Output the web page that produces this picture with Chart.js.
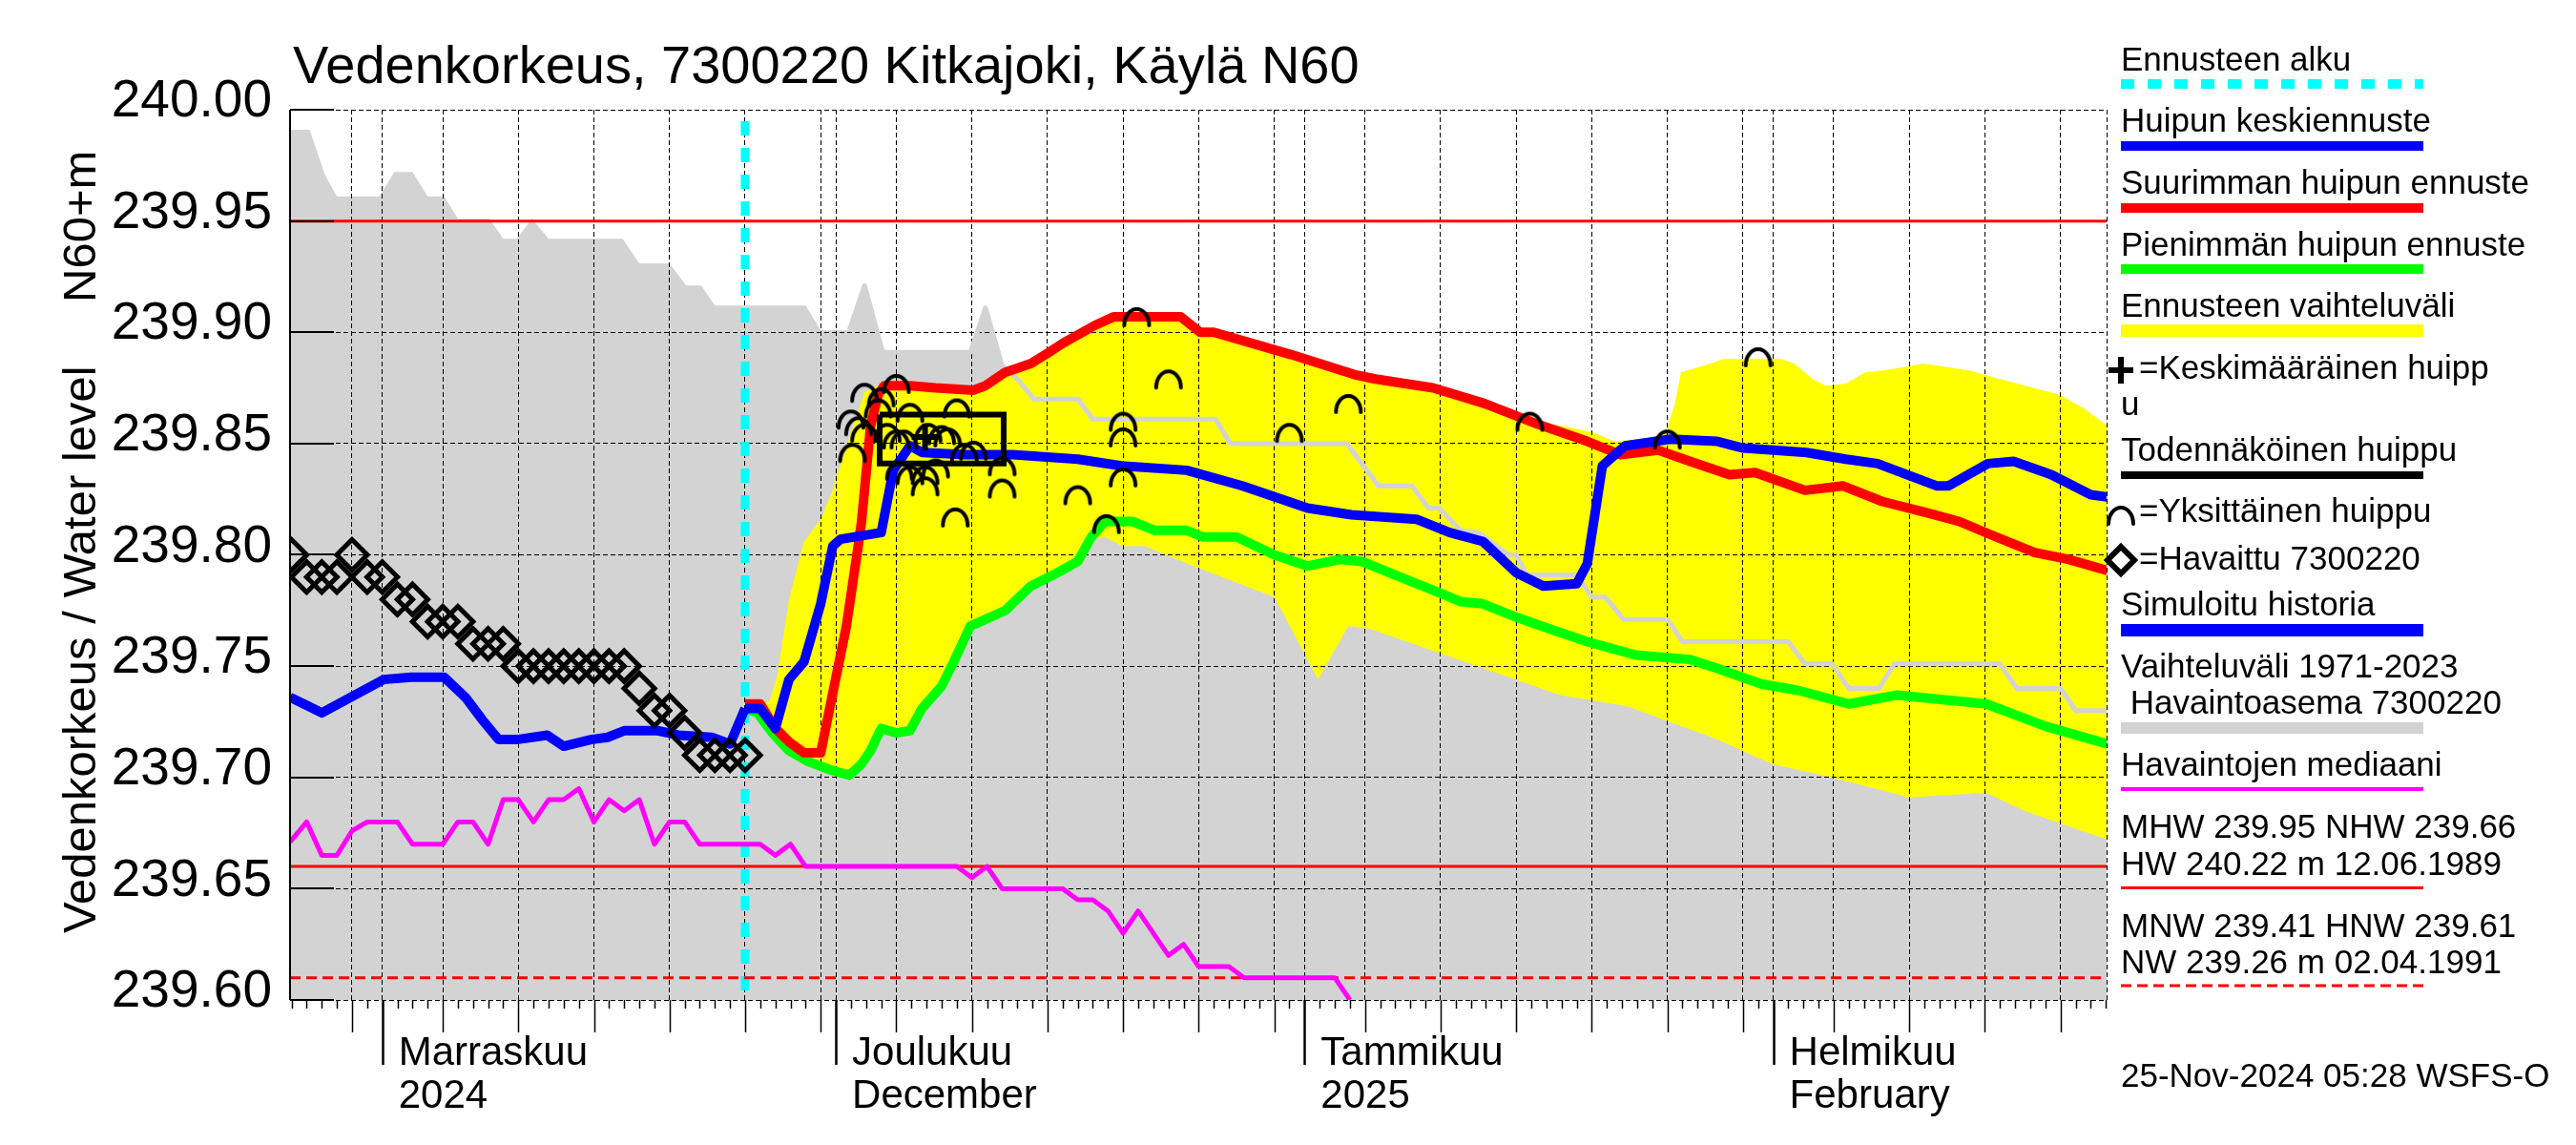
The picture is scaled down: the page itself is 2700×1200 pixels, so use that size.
<!DOCTYPE html>
<html>
<head>
<meta charset="utf-8">
<script src="https://cdn.jsdelivr.net/npm/chart.js@4.4.1/dist/chart.umd.min.js"></script>
<style>
  html, body { margin: 0; padding: 0; background: #fff; }
  #wrap { width: 2700px; height: 1200px; }
</style>
</head>
<body>
<div id="wrap"><canvas id="chart" width="2700" height="1200"></canvas></div>
<script>
// x = päiviä 26.10.2024 klo 00 alkaen
const xMin = -0.1, xMax = 120.05;
const forecastStart = 30;
const monthTicks = [6, 36, 67, 98];
const monthLabels = [["Marraskuu", "2024"], ["Joulukuu", "December"], ["Tammikuu", "2025"], ["Helmikuu", "February"]];
const gridDays = [4, 6, 10, 15, 20, 25, 30, 35, 36, 40, 45, 50, 55, 60, 65, 67, 71, 76, 81, 86, 91, 96, 98, 102, 107, 112, 117];
const yTickValues = [239.60, 239.65, 239.70, 239.75, 239.80, 239.85, 239.90, 239.95, 240.00];

// vertailutasot
const mhw = 239.95, nhw = 239.66, hnw = 239.61;

// havaitut vedenkorkeudet
const observed = [[0,239.80],[1,239.79],[2,239.79],[3,239.79],[4,239.80],[5,239.79],[6,239.79],[7,239.78],[8,239.78],
  [9,239.77],[10,239.77],[11,239.77],[12,239.76],[13,239.76],[14,239.76],[15,239.75],[16,239.75],[17,239.75],[18,239.75],
  [19,239.75],[20,239.75],[21,239.75],[22,239.75],[23,239.74],[24,239.73],[25,239.73],[26,239.72],[27,239.71],[28,239.71],
  [29,239.71],[30,239.71]];

// simuloitu historia
const simulated = [[-0.1,239.736],[2.0,239.729],[3.9,239.736],[6.1,239.744],[7.9,239.745],[10.1,239.745],[11.5,239.736],
  [12.6,239.726],[13.7,239.717],[14.9,239.717],[16.9,239.719],[18.0,239.714],[19.8,239.717],[20.9,239.718],[22.0,239.721],
  [24.2,239.721],[25.6,239.719],[27.8,239.718],[29.0,239.715],[30.0,239.731]];

// huipun keskiennuste
const meanForecast = [[30.0,239.731],[31.0,239.731],[32.0,239.722],[32.9,239.744],[33.9,239.752],[35.0,239.778],[35.8,239.804],
  [36.3,239.807],[39.0,239.810],[39.8,239.838],[40.9,239.849],[41.7,239.846],[44.6,239.845],[47.7,239.845],[52.0,239.843],
  [54.9,239.840],[59.2,239.838],[62.9,239.831],[67.2,239.821],[70.1,239.818],[74.4,239.816],[76.6,239.810],[78.8,239.806],
  [81.0,239.792],[82.8,239.786],[85.0,239.787],[85.7,239.796],[86.7,239.840],[88.2,239.849],[91.2,239.852],[94.3,239.851],
  [96.0,239.848],[100.2,239.846],[102.8,239.843],[104.9,239.841],[108.8,239.831],[109.6,239.831],[112.2,239.841],
  [113.9,239.842],[116.4,239.836],[119.0,239.827],[120.1,239.826]];

// suurimman huipun ennuste
const maxForecast = [[30.0,239.733],[31.0,239.733],[32.0,239.722],[32.9,239.716],[33.9,239.711],[35.0,239.711],[35.8,239.738],
  [36.7,239.768],[37.5,239.805],[37.7,239.815],[38.3,239.858],[38.8,239.872],[39.2,239.876],[40.9,239.876],[42.6,239.875],
  [45.1,239.874],[45.9,239.876],[47.2,239.882],[48.9,239.886],[50.1,239.891],[51.0,239.895],[53.1,239.903],[54.4,239.907],
  [58.8,239.907],[60.1,239.900],[61.0,239.900],[66.1,239.890],[70.3,239.881],[71.7,239.879],[75.5,239.875],[78.9,239.868],
  [82.3,239.859],[85.7,239.851],[87.9,239.845],[90.4,239.847],[92.5,239.842],[95.1,239.836],[96.8,239.837],[100.1,239.829],
  [102.6,239.831],[105.2,239.824],[108.1,239.819],[110.3,239.815],[112.4,239.809],[115.3,239.801],[117.5,239.798],[120.1,239.793]];

// pienimmän huipun ennuste
const minForecast = [[30.0,239.731],[30.8,239.729],[31.8,239.720],[32.9,239.712],[34.2,239.707],[35.8,239.703],[36.9,239.701],
  [37.7,239.706],[38.3,239.712],[39.0,239.722],[40.0,239.720],[40.9,239.721],[41.7,239.731],[43.0,239.741],[43.8,239.752],
  [44.9,239.768],[45.9,239.771],[47.2,239.775],[48.9,239.786],[50.1,239.790],[51.2,239.794],[52.0,239.797],[52.9,239.808],
  [53.8,239.815],[55.6,239.815],[57.1,239.811],[59.2,239.811],[60.3,239.808],[62.5,239.808],[65.0,239.800],[67.2,239.795],
  [69.4,239.798],[70.8,239.797],[73.7,239.789],[75.9,239.783],[77.3,239.779],[78.8,239.778],[81.0,239.772],[83.1,239.767],
  [85.7,239.761],[88.9,239.755],[92.5,239.753],[94.3,239.749],[97.2,239.742],[99.7,239.739],[103.0,239.733],[106.2,239.737],
  [112.1,239.733],[116.0,239.723],[120.1,239.715]];

// ennusteen vaihteluväli
const rangeUpper = [[30.0,239.734],[31.6,239.734],[32.1,239.745],[32.5,239.762],[32.9,239.780],[33.9,239.806],[35.0,239.816],
  [35.8,239.829],[36.7,239.849],[37.9,239.873],[39.0,239.877],[40.9,239.877],[45.1,239.875],[45.9,239.877],[48.9,239.886],
  [51.0,239.895],[53.1,239.903],[54.4,239.906],[58.8,239.906],[60.1,239.900],[61.0,239.900],[66.1,239.890],[70.3,239.881],
  [75.5,239.875],[78.9,239.868],[82.3,239.860],[84.0,239.858],[86.1,239.855],[87.5,239.851],[90.8,239.853],[91.5,239.868],
  [91.9,239.882],[93.4,239.885],[94.7,239.888],[98.5,239.888],[99.4,239.886],[100.6,239.879],[101.5,239.876],[102.8,239.877],
  [104.1,239.882],[105.4,239.883],[107.9,239.886],[110.9,239.883],[113.0,239.879],[116.9,239.872],[118.5,239.866],[120.1,239.858]];
const rangeLower = [[30.0,239.731],[30.8,239.728],[31.8,239.719],[32.9,239.711],[34.2,239.706],[35.8,239.702],[36.9,239.700],
  [37.7,239.705],[38.3,239.711],[39.0,239.721],[40.0,239.719],[40.9,239.720],[41.7,239.730],[43.0,239.740],[43.8,239.751],
  [44.9,239.767],[45.9,239.770],[47.2,239.774],[48.9,239.785],[50.1,239.789],[51.2,239.793],[52.0,239.796],[52.9,239.807],
  [53.8,239.808],[54.9,239.804],[56.4,239.804],[60.0,239.794],[65.0,239.781],[67.9,239.744],[69.9,239.768],[71.2,239.767],
  [75.9,239.756],[83.9,239.737],[88.3,239.732],[94.3,239.717],[97.9,239.706],[101.9,239.700],[107.0,239.691],[109.1,239.692],
  [112.1,239.693],[114.6,239.685],[119.7,239.673],[120.1,239.672]];

// vaihteluväli 1971-2023, yläraja
const historyMax = [[-0.1,239.991],[1.2,239.991],[2.2,239.971],[3.0,239.961],[5.8,239.961],[6.8,239.972],[8.0,239.972],
  [9.0,239.961],[10.1,239.961],[11.0,239.951],[13.1,239.951],[14.0,239.942],[14.9,239.942],[15.9,239.951],[17.0,239.942],
  [21.9,239.942],[23.0,239.931],[25.0,239.931],[26.1,239.921],[27.1,239.921],[28.0,239.912],[34.0,239.912],[35.0,239.901],
  [36.9,239.901],[37.9,239.921],[39.1,239.891],[44.9,239.891],[45.9,239.911],[47.0,239.885],[48.0,239.879],[49.1,239.870],
  [52.0,239.870],[53.0,239.861],[61.1,239.861],[62.1,239.850],[69.8,239.850],[71.9,239.831],[74.1,239.831],[75.2,239.821],
  [75.9,239.821],[77.3,239.811],[78.5,239.810],[80.5,239.800],[81.0,239.800],[81.7,239.791],[85.0,239.791],[86.0,239.781],
  [86.9,239.781],[88.1,239.771],[91.0,239.771],[92.0,239.761],[99.0,239.761],[100.1,239.751],[101.9,239.751],[103.0,239.740],
  [105.0,239.740],[106.0,239.751],[113.0,239.751],[114.1,239.740],[117.0,239.740],[118.0,239.730],[120.1,239.730]];

// havaintojen mediaani
const median = [[-0.1,239.671],[1,239.68],[2,239.665],[3,239.665],[4,239.676],[5,239.68],[7,239.68],[8,239.67],[10,239.67],
  [11,239.68],[12,239.68],[13,239.67],[14,239.69],[15,239.69],[16,239.68],[17,239.69],[18,239.69],[19,239.695],[20,239.68],
  [21,239.69],[22,239.685],[23,239.69],[24,239.67],[25,239.68],[26,239.68],[27,239.67],[31,239.67],[32,239.665],[33,239.67],
  [34,239.66],[44,239.66],[45,239.655],[46,239.66],[47,239.65],[51,239.65],[52,239.645],[53,239.645],[54,239.64],[55,239.63],
  [56,239.64],[58,239.62],[59,239.625],[60,239.615],[62,239.615],[63,239.61],[69,239.61],[70,239.60]];

// yksittäiset huiput
const singlePeaks = [[37.9,239.873],[40.0,239.877],[38.8,239.866],[39.0,239.871],[37.0,239.861],[40.9,239.864],[44.0,239.866],
  [42.1,239.855],[43.4,239.853],[40.0,239.852],[37.1,239.846],[45.1,239.847],[47.0,239.840],[40.2,239.838],[41.9,239.836],
  [41.9,239.831],[47.0,239.830],[52.0,239.827],[55.0,239.860],[55.0,239.853],[55.0,239.835],[53.9,239.814],[43.9,239.817],
  [55.9,239.907],[37.9,239.855],[39.4,239.855],[40.5,239.852],[43.0,239.854],[44.5,239.846],[42.6,239.839],[40.9,239.836],
  [37.5,239.858],[58.0,239.879],[69.9,239.868],[66.0,239.855],[81.9,239.860],[97.0,239.889],[91.0,239.852]];

// keskimääräinen huippu ja todennäköinen huippu (laatikko)
const meanPeak = [[41.9,239.853]];
const probableBox = [[38.9,239.863],[47.1,239.863],[47.1,239.841],[38.9,239.841],[38.9,239.863]];

const pts = a => a.map(p => ({x: p[0], y: p[1]}));
const flat = v => [{x: xMin, y: v}, {x: xMax, y: v}];

function archImage() {
  const c = document.createElement("canvas");
  c.width = 36; c.height = 26;
  const g = c.getContext("2d");
  g.strokeStyle = "#000";
  g.lineWidth = 4;
  g.lineCap = "round";
  g.beginPath();
  g.ellipse(18, 22, 13, 17, 0, Math.PI, 2 * Math.PI);
  g.stroke();
  return c;
}
const archImg = archImage();

const font = '"Liberation Sans", Arial, sans-serif';
Chart.defaults.font.family = font;
Chart.defaults.color = "#000";

const line = (data, color, width, order, extra) => Object.assign({
  data: pts(data), borderColor: color, borderWidth: width, pointRadius: 0,
  fill: false, tension: 0, borderJoinStyle: "round", order: order
}, extra || {});

const decorations = {
  id: "decorations",
  afterDraw(chart) {
    const ctx = chart.ctx;
    const area = chart.chartArea;
    const xs = chart.scales.x, ys = chart.scales.y;
    ctx.save();
    ctx.strokeStyle = "#000";
    ctx.lineWidth = 2;
    ctx.beginPath();
    ctx.moveTo(area.left, area.top);
    ctx.lineTo(area.left, area.bottom);
    ctx.stroke();
    yTickValues.forEach(v => {
      const y = Math.round(ys.getPixelForValue(v));
      ctx.beginPath();
      ctx.moveTo(area.left, y);
      ctx.lineTo(area.left + 46, y);
      ctx.stroke();
    });
    // päivien väliviivat akselin alla
    for (let d = 0; d <= 120; d++) {
      const x = Math.round(xs.getPixelForValue(d)) + 0.5;
      let len = 9, lw = 1.5;
      if (monthTicks.includes(d)) { len = 68; lw = 2.5; }
      else if (gridDays.includes(d)) { len = 34; }
      ctx.lineWidth = lw;
      ctx.beginPath();
      ctx.moveTo(x, area.bottom);
      ctx.lineTo(x, area.bottom + len);
      ctx.stroke();
    }

    ctx.fillStyle = "#000";
    ctx.textAlign = "left";
    ctx.textBaseline = "alphabetic";
    ctx.font = "56px " + font;
    ctx.fillText("Vedenkorkeus, 7300220 Kitkajoki, Käylä N60", 307, 87);

    ctx.font = "49px " + font;
    ctx.save();
    ctx.translate(100, 978);
    ctx.rotate(-Math.PI / 2);
    ctx.fillText("Vedenkorkeus / Water level", 0, 0);
    ctx.restore();
    ctx.save();
    ctx.translate(100, 317);
    ctx.rotate(-Math.PI / 2);
    ctx.fillText("N60+m", 0, 0);
    ctx.restore();

    // selite
    const lx = 2223, lx2 = 2540;
    const bar = (y, w, color, dash) => {
      ctx.save();
      ctx.strokeStyle = color;
      ctx.lineWidth = w;
      ctx.setLineDash(dash || []);
      ctx.beginPath();
      ctx.moveTo(lx, y);
      ctx.lineTo(lx2, y);
      ctx.stroke();
      ctx.restore();
    };
    ctx.font = "35px " + font;
    ctx.fillText("Ennusteen alku", lx, 74);
    bar(88, 10, "#00ffff", [14, 14]);
    ctx.fillText("Huipun keskiennuste", lx, 138);
    bar(153, 10, "#0000ff");
    ctx.fillText("Suurimman huipun ennuste", lx, 203);
    bar(218, 10, "#ff0000");
    ctx.fillText("Pienimmän huipun ennuste", lx, 268);
    bar(282, 10, "#00ff00");
    ctx.fillText("Ennusteen vaihteluväli", lx, 332);
    bar(346.5, 13, "#ffff00");

    ctx.lineWidth = 6;
    ctx.beginPath();
    ctx.moveTo(lx, 374); ctx.lineTo(lx, 402);
    ctx.moveTo(lx - 13, 388); ctx.lineTo(lx + 13, 388);
    ctx.stroke();
    ctx.fillText("=Keskimääräinen huipp", 2242, 397);
    ctx.fillText("u", lx, 435);

    ctx.fillText("Todennäköinen huippu", lx, 483);
    bar(498, 8, "#000");

    ctx.drawImage(archImg, lx - 18, 540 - 13);
    ctx.fillText("=Yksittäinen huippu", 2242, 547);

    ctx.lineWidth = 6;
    ctx.beginPath();
    ctx.moveTo(lx, 573); ctx.lineTo(lx + 14, 587); ctx.lineTo(lx, 601); ctx.lineTo(lx - 14, 587);
    ctx.closePath();
    ctx.stroke();
    ctx.fillText("=Havaittu 7300220", 2242, 597);

    ctx.fillText("Simuloitu historia", lx, 645);
    bar(660.5, 13, "#0000ff");
    ctx.fillText("Vaihteluväli 1971-2023", lx, 710);
    ctx.fillText(" Havaintoasema 7300220", lx, 748);
    bar(763, 12, "#d3d3d3");
    ctx.fillText("Havaintojen mediaani", lx, 813);
    bar(827, 4, "#ff00ff");
    ctx.fillText("MHW 239.95 NHW 239.66", lx, 878);
    ctx.fillText("HW 240.22 m 12.06.1989", lx, 917);
    bar(930.5, 3, "#ff0000");
    ctx.fillText("MNW 239.41 HNW 239.61", lx, 982);
    ctx.fillText("NW 239.26 m 02.04.1991", lx, 1020);
    bar(1033, 3, "#ff0000", [11, 6]);
    ctx.fillText("25-Nov-2024 05:28 WSFS-O", lx, 1139);
    ctx.restore();
  }
};

const none = "rgba(0,0,0,0)";

new Chart(document.getElementById("chart").getContext("2d"), {
  type: "line",
  data: {
    datasets: [
      { data: pts(meanPeak), showLine: false, pointStyle: "cross", pointRadius: 14, pointBorderWidth: 6,
        pointBorderColor: "#000", order: 0 },
      { data: pts(singlePeaks), showLine: false, pointStyle: archImg, pointRadius: 10, order: 0 },
      { data: pts(observed), showLine: false, pointStyle: "rectRot", pointRadius: 16, pointBorderWidth: 5,
        pointBorderColor: "#000", pointBackgroundColor: none, order: 1 },
      line(probableBox, "#000", 6, 1, { borderJoinStyle: "miter" }),
      line(meanForecast, "#0000ff", 10, 2),
      line(simulated, "#0000ff", 10, 2),
      line(maxForecast, "#ff0000", 10, 3),
      line(minForecast, "#00ff00", 10, 4),
      line(median, "#ff00ff", 5, 5),
      line(historyMax.filter(p => p[0] >= 36.5), "#d3d3d3", 5, 6),
      { data: flat(mhw), borderColor: "#ff0000", borderWidth: 3, pointRadius: 0, fill: false, order: 7 },
      { data: flat(nhw), borderColor: "#ff0000", borderWidth: 3, pointRadius: 0, fill: false, order: 7 },
      { data: flat(hnw), borderColor: "#ff0000", borderWidth: 3, borderDash: [11, 6], pointRadius: 0, fill: false, order: 7 },
      { data: [{x: forecastStart, y: 240.0}, {x: forecastStart, y: 239.6}], borderColor: "#00ffff", borderWidth: 9,
        borderDash: [15, 13], borderDashOffset: 16, pointRadius: 0, fill: false, order: 8 },
      { data: pts(rangeUpper), borderColor: none, borderWidth: 0, backgroundColor: "#ffff00", pointRadius: 0,
        fill: { target: 15 }, tension: 0, order: 9 },
      { data: pts(rangeLower), borderColor: none, borderWidth: 0, pointRadius: 0, fill: false, tension: 0, order: 9 },
      { data: pts(historyMax), borderColor: none, borderWidth: 0, backgroundColor: "#d3d3d3", pointRadius: 0,
        fill: "start", tension: 0, order: 10 }
    ]
  },
  options: {
    responsive: false,
    devicePixelRatio: 1,
    animation: false,
    events: [],
    layout: { padding: { top: 115, right: 492, bottom: 0, left: 0 } },
    plugins: {
      legend: { display: false },
      tooltip: { enabled: false },
      filler: { drawTime: "beforeDraw" }
    },
    scales: {
      x: {
        type: "linear", min: xMin, max: xMax,
        afterBuildTicks: s => { s.ticks = gridDays.concat([xMax]).map(v => ({ value: v })); },
        afterFit: s => { s.height = 152; },
        ticks: {
          autoSkip: false, maxRotation: 0, minRotation: 0, align: "start", labelOffset: 17, padding: 34,
          font: { size: 42, lineHeight: 1.07 },
          callback: v => { const i = monthTicks.indexOf(v); return i >= 0 ? monthLabels[i] : ""; }
        },
        grid: { color: "#000", lineWidth: 1, drawTicks: false },
        border: { display: false, dash: [5, 3] }
      },
      y: {
        min: 239.6, max: 240.0,
        afterBuildTicks: s => { s.ticks = yTickValues.map(v => ({ value: v })); },
        afterFit: s => { s.width = 304; },
        ticks: { font: { size: 55 }, padding: 19, labelOffset: -8, callback: v => v.toFixed(2) },
        grid: { color: "#000", lineWidth: 1, drawTicks: false },
        border: { display: false, dash: [5, 3] }
      }
    }
  },
  plugins: [decorations]
});
</script>
</body>
</html>
